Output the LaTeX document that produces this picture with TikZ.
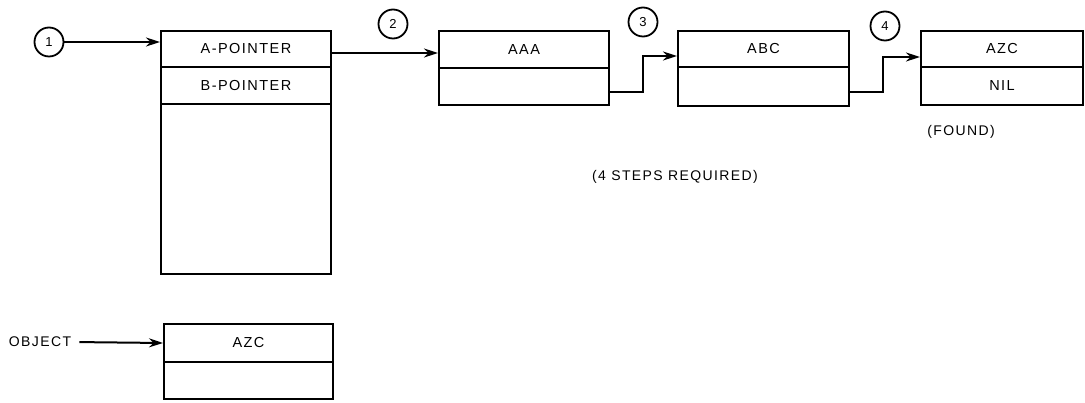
\documentclass[tikz,border=0pt]{standalone}
\usepackage{fontspec}
\setmainfont[LetterSpace=10]{Liberation Sans}
\usetikzlibrary{arrows.meta}
\tikzset{
  cell/.style={draw, line width=2pt, anchor=north west, inner sep=0pt, font=\fontsize{14.5}{16}\selectfont},
  num/.style={draw, circle, line width=1.8pt, minimum size=29pt, inner sep=0pt, font=\fontsize{13}{14}\selectfont},
  lbl/.style={inner sep=0pt, font=\fontsize{14}{16}\selectfont},
  conn/.style={line width=2pt, -{Stealth[length=14pt,width=9pt]}}
}
\begin{document}
\begin{tikzpicture}[x=1pt,y=-1pt]
\useasboundingbox (0,0) rectangle (1085,403);
% big record
\node[cell, minimum width=170pt, minimum height=36pt] (apt) at (160,30) {A-POINTER};
\node[cell, minimum width=170pt, minimum height=37pt] (bpt) at (160,66) {B-POINTER};
\node[cell, minimum width=170pt, minimum height=170pt] (rest) at (160,103) {};
% AAA
\node[cell, minimum width=170pt, minimum height=37pt] (aaa1) at (438,30) {AAA};
\node[cell, minimum width=170pt, minimum height=37pt] (aaa2) at (438,67) {};
% ABC
\node[cell, minimum width=171pt, minimum height=36pt] (abc1) at (677,30) {ABC};
\node[cell, minimum width=171pt, minimum height=39pt] (abc2) at (677,66) {};
% AZC
\node[cell, minimum width=162pt, minimum height=36pt] (azc1) at (920,30) {AZC};
\node[cell, minimum width=162pt, minimum height=38pt] (azc2) at (920,66) {NIL};
% object
\node[cell, minimum width=169pt, minimum height=38pt] (obj1) at (163,323) {AZC};
\node[cell, minimum width=169pt, minimum height=37pt] (obj2) at (163,361) {};
% circles
\node[num] (c1) at (49,42) {1};
\node[num] (c2) at (393,24) {2};
\node[num] (c3) at (643,22) {3};
\node[num] (c4) at (885,26) {4};
% labels
\node[lbl] (found) at (961,132) {(FOUND)};
\node[lbl] (steps) at (675,177) {(4 STEPS REQUIRED)};
\node[lbl] (objl) at (40,342) {OBJECT};
% connectors
\draw[conn] (c1.east) -- (c1.east -| apt.west);
\coordinate (s2) at ([yshift=-4pt]apt.east);
\draw[conn] (s2) -- (s2 -| aaa1.west);
\coordinate (s3) at ([yshift=-6pt]aaa2.east);
\coordinate (t3) at ([yshift=-7pt]abc1.west);
\draw[conn] (s3) -| (c3 |- t3) -- (t3);
\coordinate (s4) at ([yshift=-6pt]abc2.east);
\coordinate (t4) at ([yshift=-8pt]azc1.west);
\draw[conn] (s4) -| ([xshift=-2pt]c4 |- t4) -- (t4);
\draw[conn, shorten <=8pt] (objl.east) -- (obj1.west);
\end{tikzpicture}
\end{document}
